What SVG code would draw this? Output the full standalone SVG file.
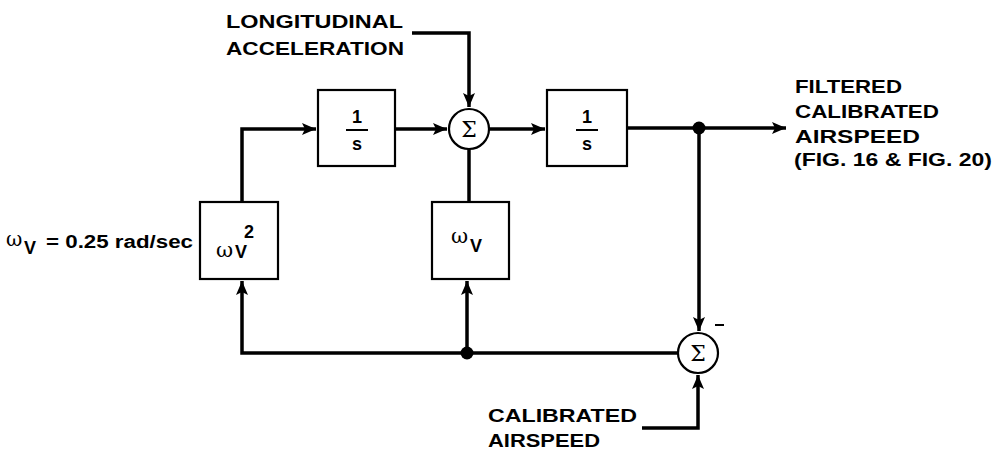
<svg xmlns="http://www.w3.org/2000/svg" width="998" height="451" viewBox="0 0 998 451">
<style>
.box{fill:#fff;stroke:#000;stroke-width:2.2}
.sum{fill:#fff;stroke:#000;stroke-width:2.2}
.wire{fill:none;stroke:#000;stroke-width:3.5}
.lbl{font-family:"Liberation Sans",Arial,sans-serif;font-weight:bold;font-size:18px;fill:#000}
.ser{font-family:"DejaVu Serif","Liberation Serif",serif;fill:#000}
</style>
<defs>
<marker id="ah" markerUnits="userSpaceOnUse" markerWidth="16" markerHeight="12" refX="14" refY="6" orient="auto">
<path d="M0,0 L14,6 L0,12 L3,6 Z" fill="#000"/>
</marker>
</defs>
<rect width="998" height="451" fill="#fff"/>
<g id="connectors">
<path class="wire" d="M678,353 L242,353 L242,281" marker-end="url(#ah)"/>
<path class="wire" d="M467,353 L467,281" marker-end="url(#ah)"/>
<path class="wire" d="M242,202 L242,129 L316,129" marker-end="url(#ah)"/>
<path class="wire" d="M395,129 L447,129" marker-end="url(#ah)"/>
<path class="wire" d="M412,33 L469,33 L469,107" marker-end="url(#ah)"/>
<path class="wire" d="M469,149 L469,202"/>
<path class="wire" d="M489,129 L545,129" marker-end="url(#ah)"/>
<path class="wire" d="M627,128 L786,128" marker-end="url(#ah)"/>
<path class="wire" d="M699,128 L699,331" marker-end="url(#ah)"/>
<path class="wire" d="M642,428 L698,428 L698,375" marker-end="url(#ah)"/>
<circle cx="699" cy="128" r="6.5" fill="#000"/>
<circle cx="467" cy="353" r="6.5" fill="#000"/>
</g>
<g id="int1">
<rect class="box" x="318" y="90" width="77" height="76"/>
<text class="lbl" x="357" y="123" font-size="21" text-anchor="middle">1</text>
<line x1="346" y1="130" x2="368" y2="130" stroke="#000" stroke-width="2"/>
<text class="lbl" x="357" y="150" font-size="20" text-anchor="middle">s</text>
</g>
<g id="int2">
<rect class="box" x="547" y="90" width="80" height="76"/>
<text class="lbl" x="587" y="123" font-size="21" text-anchor="middle">1</text>
<line x1="576" y1="130" x2="598" y2="130" stroke="#000" stroke-width="2"/>
<text class="lbl" x="587" y="150" font-size="20" text-anchor="middle">s</text>
</g>
<g id="sum1">
<circle class="sum" cx="469" cy="129" r="20"/>
<text class="ser" x="469" y="137" font-size="22" text-anchor="middle">Σ</text>
</g>
<g id="sum2">
<circle class="sum" cx="698" cy="353" r="20"/>
<text class="ser" x="698" y="361" font-size="22" text-anchor="middle">Σ</text>
<line x1="715" y1="325" x2="724" y2="325" stroke="#000" stroke-width="2"/>
</g>
<g id="gain2">
<rect class="box" x="200" y="202" width="78" height="77"/>
<text class="ser" x="216" y="257" font-size="21">ω</text>
<text class="lbl" x="244" y="238" font-size="17">2</text>
<text class="lbl" x="235" y="258" font-size="21">V</text>
</g>
<g id="gain1">
<rect class="box" x="432" y="202" width="77" height="77"/>
<text class="ser" x="451" y="243" font-size="21">ω</text>
<text class="lbl" x="470" y="252" font-size="21">V</text>
</g>
<g id="labels">
<text class="lbl" x="226" y="28" textLength="177" lengthAdjust="spacingAndGlyphs">LONGITUDINAL</text>
<text class="lbl" x="226" y="55" textLength="178" lengthAdjust="spacingAndGlyphs">ACCELERATION</text>
<text class="lbl" x="795" y="93" textLength="107" lengthAdjust="spacingAndGlyphs">FILTERED</text>
<text class="lbl" x="795" y="118" textLength="144" lengthAdjust="spacingAndGlyphs">CALIBRATED</text>
<text class="lbl" x="795" y="143" textLength="125" lengthAdjust="spacingAndGlyphs">AIRSPEED</text>
<text class="lbl" x="794" y="166" textLength="198" lengthAdjust="spacingAndGlyphs">(FIG. 16 &amp; FIG. 20)</text>
<text class="lbl" x="488" y="422" textLength="149" lengthAdjust="spacingAndGlyphs">CALIBRATED</text>
<text class="lbl" x="488" y="447" textLength="112" lengthAdjust="spacingAndGlyphs">AIRSPEED</text>
<text class="ser" x="6" y="246" font-size="20">ω</text>
<text class="lbl" x="24" y="254" font-size="20">V</text>
<text class="lbl" x="46" y="248" textLength="147" lengthAdjust="spacingAndGlyphs">= 0.25 rad/sec</text>
</g>
</svg>
